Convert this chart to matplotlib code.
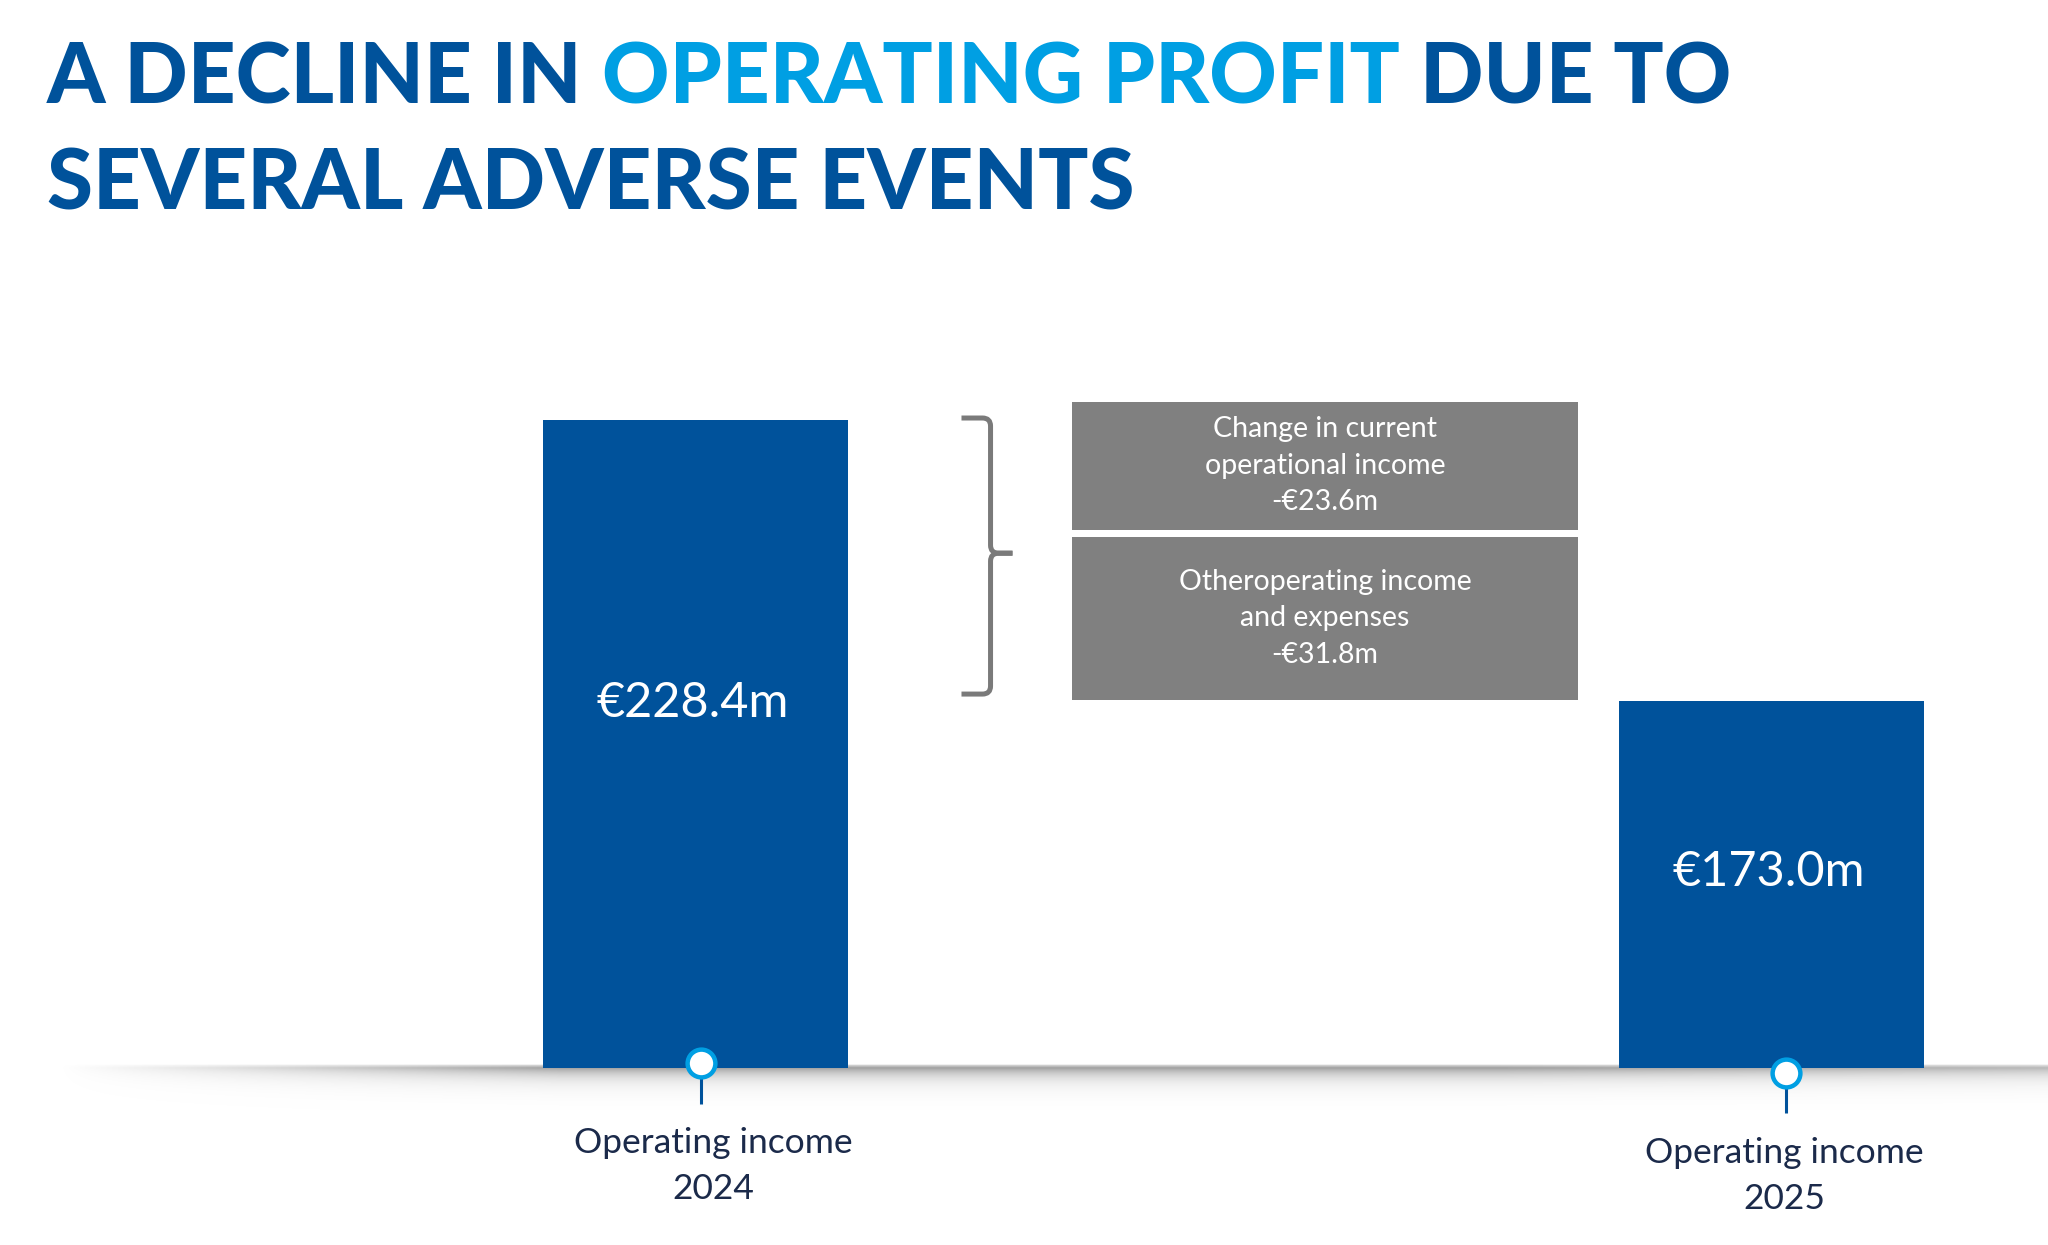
import numpy as np
import matplotlib
matplotlib.use("Agg")
import matplotlib.pyplot as plt
from matplotlib.path import Path
from matplotlib.patches import PathPatch

# --- data -------------------------------------------------------------
categories = ["Operating income\n2024", "Operating income\n2025"]
values = [228.4, 173.0]                      # €m, printed in the bars
step_labels = ["Change in current\noperational income",
               "Otheroperating income\nand expenses"]
step_values = [-23.6, -31.8]                 # €m

# the slide is not drawn to scale: heights as they appear on the picture
bar_drawn = [228.4, 129.2]
step_top_drawn = [234.8, 187.2]
step_bottom_drawn = [189.6, 129.7]

title_line1 = [("A DECLINE IN", "dark"), ("OPERATING PROFIT", "light"), ("DUE TO", "dark")]
title_line2 = [("SEVERAL ADVERSE EVENTS", "dark")]

# --- layout / style ---------------------------------------------------
DARK = "#00529B"
LIGHT = "#009FE3"
GREY = "#808080"
NAVY = "#1B2A4A"
colors = {"dark": DARK, "light": LIGHT}

bar_x = [0.0, 1.0]
bar_w = 0.2835
value_frac = [0.563, 0.535]
step_x = 0.585
step_w = 0.470
marker_dx = [0.005, 0.0135]
marker_y = [1.8, -1.8]
stem_end = [-12.7, -15.9]
label_dx = [0.017, 0.012]
label_top = [-20.8, -24.3]

W, H = 2048, 1245
fig = plt.figure(figsize=(W / 100, H / 100), dpi=100)
fig.patch.set_facecolor("white")

base_px = 1068
top_px = 380
px_per_unit = 648 / 228.4
ax = fig.add_axes([0, (H - base_px) / H, 1, (base_px - top_px) / H])
ax.set_xlim(-695.5 / 1076, (W - 695.5) / 1076)
ax.set_ylim(0, (base_px - top_px) / px_per_unit)
ax.axis("off")
ax.patch.set_alpha(0)
ax.set_zorder(2)

# soft shadow line along the base
sh = fig.add_axes([0, (H - 1110) / H, 1, 46 / H])
sh.axis("off")
sh.set_zorder(1)
rows = np.arange(46)
v = np.where(rows < 4, 0.3 + 0.2 * rows, 0.9 * np.exp(-(rows - 4) / 9.0))
v[0] = 0.15
cols = np.arange(W)
hz = np.clip((cols - 60) / 500.0, 0, 1) * (1 - 0.25 * np.clip((cols - 1500) / 548.0, 0, 1))
alpha = np.outer(v, hz) * 0.8
img = np.zeros((46, W, 4))
img[..., :3] = 0.52
img[..., 3] = alpha
sh.imshow(img, aspect="auto", extent=[0, 1, 0, 1], interpolation="bilinear")
sh.set_xlim(0, 1)
sh.set_ylim(0, 1)

# main bars
ax.bar(bar_x, bar_drawn, width=bar_w, color=DARK, zorder=3)
for x, h, val, f in zip(bar_x, bar_drawn, values, value_frac):
    ax.text(x - 0.003, h * f, f"€{val:.1f}m", color="white", fontsize=35,
            fontfamily="Lato", ha="center", va="center", zorder=5)

# step boxes
heights = [t - b for t, b in zip(step_top_drawn, step_bottom_drawn)]
ax.bar([step_x] * 2, heights, bottom=step_bottom_drawn, width=step_w,
       color=GREY, zorder=3)
for t, b, lab, val in zip(step_top_drawn, step_bottom_drawn, step_labels, step_values):
    ax.text(step_x, (t + b) / 2, f"{lab}\n-€{abs(val):.1f}m", color="white",
            fontsize=20.5, fontfamily="Lato", ha="center", va="center",
            linespacing=1.5, zorder=5)

# curly bracket
xv, x0, xt = 0.2742, 0.2472, 0.2946
ytop, ybot = bar_drawn[0] + 0.7, bar_drawn[1] + 2.6
ymid = (ytop + ybot) / 2 + 1.0
rx, ry = 8 / 1076, 8 / px_per_unit
for yend, s in [(ytop, 1), (ybot, -1)]:
    verts = [(x0, yend), (xv - rx, yend), (xv, yend), (xv, yend - s * ry),
             (xv, ymid + s * ry), (xv, ymid), (xv + rx, ymid), (xt, ymid)]
    codes = [Path.MOVETO, Path.LINETO, Path.CURVE3, Path.CURVE3,
             Path.LINETO, Path.CURVE3, Path.CURVE3, Path.LINETO]
    ax.add_patch(PathPatch(Path(verts, codes), fill=False, edgecolor="#7a7a7a",
                           lw=3.6, capstyle="butt", joinstyle="round", zorder=4))

# pins and category labels
for i, x in enumerate(bar_x):
    mx = x + marker_dx[i]
    ax.plot([mx, mx], [marker_y[i], stem_end[i]], color=DARK, lw=2.2,
            clip_on=False, zorder=5, solid_capstyle="butt")
    ax.plot(mx, marker_y[i], "o", ms=20, mfc="white", mec=LIGHT, mew=3.2,
            clip_on=False, zorder=6)
    ax.text(x + label_dx[i], label_top[i], categories[i], color=NAVY,
            fontsize=25.5, fontfamily="Lato", ha="center",
            va="top", linespacing=1.55, clip_on=False)

# title in two colours
renderer = fig.canvas.get_renderer()
tkw = dict(fontsize=60, fontfamily="Lato", fontweight="black", va="baseline")


def text_width(s):
    t = fig.text(0, 0, s, **tkw)
    w = t.get_window_extent(renderer).width
    t.remove()
    return w / W


space = text_width("A A") - text_width("AA")
for line, y in [(title_line1, 1 - 103 / H), (title_line2, 1 - 209 / H)]:
    x = 47 / W
    for piece, c in line:
        t = fig.text(x, y, piece, color=colors[c], **tkw)
        x += t.get_window_extent(renderer).width / W + space

fig.savefig("out.png", dpi=100, facecolor="white")
